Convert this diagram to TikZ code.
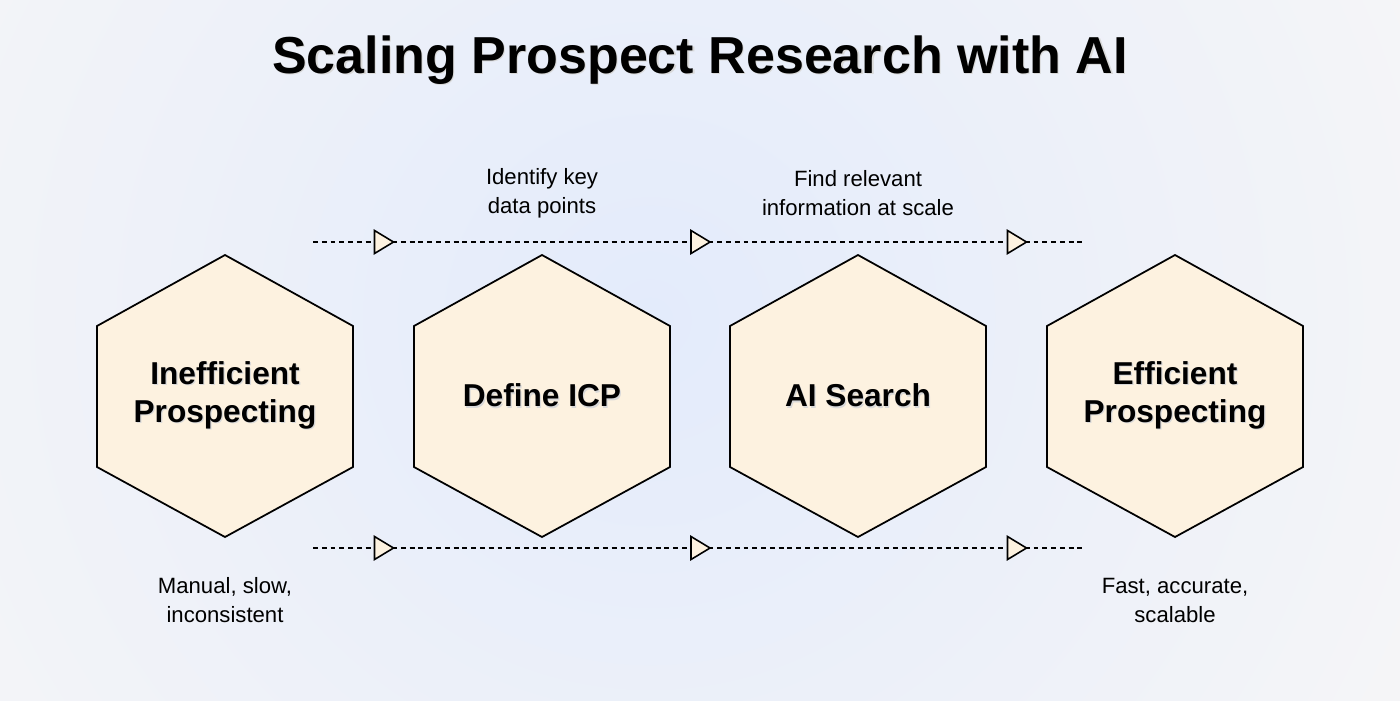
\documentclass[tikz,border=0pt]{standalone}
\usepackage{fontspec}
\setmainfont{Liberation Sans}
\usetikzlibrary{positioning}

\definecolor{bgin}{RGB}{227,235,251}
\definecolor{bgout}{RGB}{252,249,246}
\definecolor{cream}{RGB}{253,242,224}

\newcommand{\shadowed}[1]{\leavevmode\rlap{\hspace{0.35pt}\raisebox{-0.45pt}{\textcolor{black!15}{#1}}}#1}

\tikzset{
  hexlabel/.style={align=center, font=\bfseries\fontsize{9}{10.8}\selectfont},
  note/.style={align=center, font=\fontsize{6.3}{8.25}\selectfont},
  flow/.style={dash pattern=on 1.4pt off 1.1pt, line width=0.4pt},
  hexagon/.style={draw, fill=cream, line width=0.5pt, line join=miter},
  tri/.style={draw, fill=cream, line width=0.45pt, line join=miter},
}

\begin{document}
\begin{tikzpicture}
% background
\useasboundingbox (0,0) rectangle (14,7);
\begin{scope}
\clip (0,0) rectangle (14,7);
\shade[inner color=bgin, outer color=bgout] (6.5,3.8) circle (11.5);
\end{scope}

% title
\node[font=\bfseries\fontsize{14.8}{18}\selectfont, anchor=base] (title) at (7,6.27) {\shadowed{Scaling Prospect Research with AI}};

% hexagons
\foreach \x in {2.25,5.42,8.58,11.75}
  \draw[hexagon] (\x,4.45) -- (\x+1.28,3.74) -- (\x+1.28,2.33) -- (\x,1.63) -- (\x-1.28,2.33) -- (\x-1.28,3.74) -- cycle;

\node[hexlabel] (ineff) at (2.25,3.04) {\shadowed{Inefficient}\\\shadowed{Prospecting}};
\node[hexlabel] (icp) at (5.42,3.04) {\shadowed{Define ICP}};
\node[hexlabel] (search) at (8.58,3.04) {\shadowed{AI Search}};
\node[hexlabel] (eff) at (11.75,3.04) {\shadowed{Efficient}\\\shadowed{Prospecting}};

% dashed flow lines
\coordinate (top start) at (3.13,4.58);
\coordinate (top end) at (10.85,4.58);
\coordinate (bot start) at (3.13,1.52);
\coordinate (bot end) at (10.85,1.52);
\draw[flow] (top start) -- (top end);
\draw[flow] (bot start) -- (bot end);
\foreach \x in {3.835,7.0,10.165}{
  \draw[tri] (\x-0.09,4.695) -- (\x+0.10,4.58) -- (\x-0.09,4.465) -- cycle;
  \draw[tri] (\x-0.09,1.635) -- (\x+0.10,1.52) -- (\x-0.09,1.405) -- cycle;
}

% notes
\node[note] (keydata) at (5.42,5.07) {Identify key\\data points};
\node[note] (findinfo) at (8.58,5.07) {Find relevant\\information at scale};
\node[note] (manual) at (2.25,1.0) {Manual, slow,\\inconsistent};
\node[note] (fast) at (11.75,1.0) {Fast, accurate,\\scalable};
\end{tikzpicture}
\end{document}
